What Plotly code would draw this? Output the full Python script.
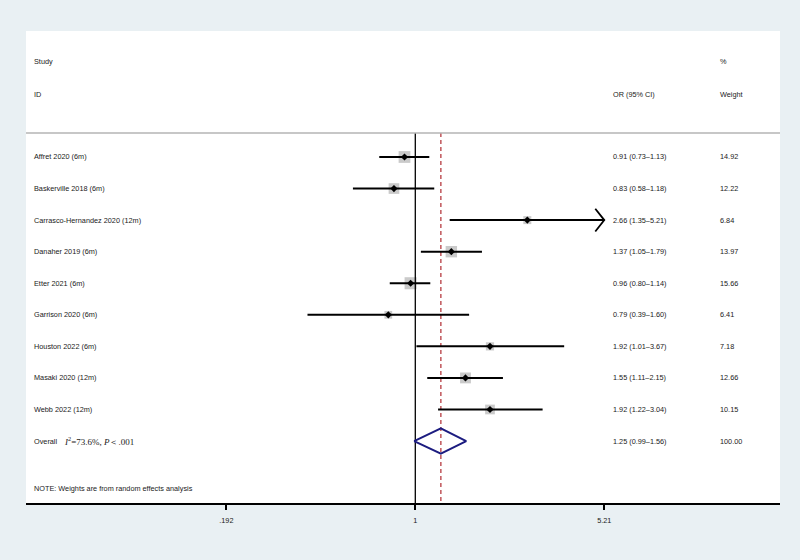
import math
import plotly.graph_objects as go

studies = ["Affret 2020 (6m)", "Baskerville 2018 (6m)", "Carrasco-Hernandez 2020 (12m)",
           "Danaher 2019 (6m)", "Etter 2021 (6m)", "Garrison 2020 (6m)",
           "Houston 2022 (6m)", "Masaki 2020 (12m)", "Webb 2022 (12m)"]
or_est = [0.91, 0.83, 2.66, 1.37, 0.96, 0.79, 1.92, 1.55, 1.92]
ci_low = [0.73, 0.58, 1.35, 1.05, 0.80, 0.39, 1.01, 1.11, 1.22]
ci_high = [1.13, 1.18, 5.21, 1.79, 1.14, 1.60, 3.67, 2.15, 3.04]
weights = [14.92, 12.22, 6.84, 13.97, 15.66, 6.41, 7.18, 12.66, 10.15]
overall = (1.25, 0.99, 1.56)
tick_vals = [0.192, 1, 5.21]
tick_text = [".192", "1", "5.21"]
x_max = 5.21

rows = list(range(1, len(studies) + 1))
overall_row = len(studies) + 1

FONT = "Liberation Sans, Arial, sans-serif"
FS = 7.3
TXT = "#1a1a1a"
BG = "#e9f0f3"

fig = go.Figure()

# weight boxes
fig.add_trace(go.Scatter(
    x=or_est, y=rows, mode="markers",
    marker=dict(symbol="square", color="#b3b3b3", size=[3.05 * math.sqrt(w) for w in weights],
                line=dict(width=0)),
    hoverinfo="skip", showlegend=False))

# reference line at 1
y_top, y_bot = 0.24, 11.963
fig.add_trace(go.Scatter(x=[1, 1], y=[y_top, y_bot], mode="lines",
                         line=dict(color="black", width=1.3), hoverinfo="skip", showlegend=False))
# overall dashed line
fig.add_trace(go.Scatter(x=[overall[0], overall[0]], y=[y_top, y_bot], mode="lines",
                         line=dict(color="#c0555a", width=1.5, dash="4px,3px"),
                         hoverinfo="skip", showlegend=False))

# CI lines
for r, lo, hi in zip(rows, ci_low, ci_high):
    hi_c = min(hi, x_max)
    fig.add_trace(go.Scatter(x=[lo, hi_c], y=[r, r], mode="lines",
                             line=dict(color="black", width=2), hoverinfo="skip", showlegend=False))
    if hi >= x_max:
        f = math.exp(9 / 114.5)
        fig.add_trace(go.Scatter(x=[x_max / f, x_max, x_max / f], y=[r - 0.36, r, r + 0.36],
                                 mode="lines", line=dict(color="black", width=1.8),
                                 hoverinfo="skip", showlegend=False))

# point estimates
fig.add_trace(go.Scatter(x=or_est, y=rows, mode="markers",
                         marker=dict(symbol="diamond", color="black", size=5.5, line=dict(width=0)),
                         hoverinfo="skip", showlegend=False))

# overall diamond
fig.add_trace(go.Scatter(
    x=[overall[1], overall[0], overall[2], overall[0], overall[1]],
    y=[overall_row, overall_row - 0.4, overall_row, overall_row + 0.4, overall_row],
    mode="lines", line=dict(color="#1c1c80", width=2), hoverinfo="skip", showlegend=False))

# text annotations
def px(p):
    return (p - 2 - 26) / 754.0

ann = []
def add(text, xp, y, size=FS, family=FONT):
    ann.append(dict(text=text, x=px(xp), y=y, xref="paper", yref="y", xanchor="left",
                    yanchor="middle", showarrow=False, font=dict(family=family, size=size, color=TXT)))

add("Study", 34, -2.01)
add("ID", 34, -0.996)
add("OR (95% CI)", 612.5, -0.996)
add("%", 720, -2.01)
add("Weight", 720, -0.996)
for r, s, e, lo, hi, w in zip(rows, studies, or_est, ci_low, ci_high, weights):
    add(s, 34, r)
    add(f"{e:.2f} ({lo:.2f}\u2013{hi:.2f})", 612.5, r)
    add(f"{w:.2f}", 720, r)
add("Overall", 34, overall_row)
add("<i>I</i><sup>2</sup>=73.6%, <i>P</i>\uff1c.001", 64, overall_row, size=9,
    family="Liberation Serif, Times New Roman, serif")
add(f"{overall[0]:.2f} ({overall[1]:.2f}\u2013{overall[2]:.2f})", 612.5, overall_row)
add("100.00", 720, overall_row)
add("NOTE: Weights are from random effects analysis", 34, 11.49)

fig.update_layout(
    width=800, height=560,
    margin=dict(l=26, r=20, t=31, b=57),
    paper_bgcolor=BG, plot_bgcolor="white",
    annotations=ann,
    shapes=[dict(type="line", xref="paper", yref="y", x0=0, x1=1, y0=y_top, y1=y_top,
                 line=dict(color="#b5b5b5", width=1.5))],
    xaxis=dict(type="log", range=[-1.4766, 1.3833], tickvals=tick_vals, ticktext=tick_text,
               showgrid=False, zeroline=False, showline=True, linecolor="black", linewidth=1.5,
               ticks="outside", ticklen=5, tickwidth=1.5, tickcolor="black", ticklabelstandoff=4,
               tickfont=dict(family=FONT, size=FS, color=TXT), fixedrange=True),
    yaxis=dict(range=[11.963, -2.992], visible=False, showgrid=False, zeroline=False, fixedrange=True),
)

fig.write_html("out.html", config={"displayModeBar": False},
               post_script="document.body.style.margin='0';document.body.style.background='" + BG + "';")
